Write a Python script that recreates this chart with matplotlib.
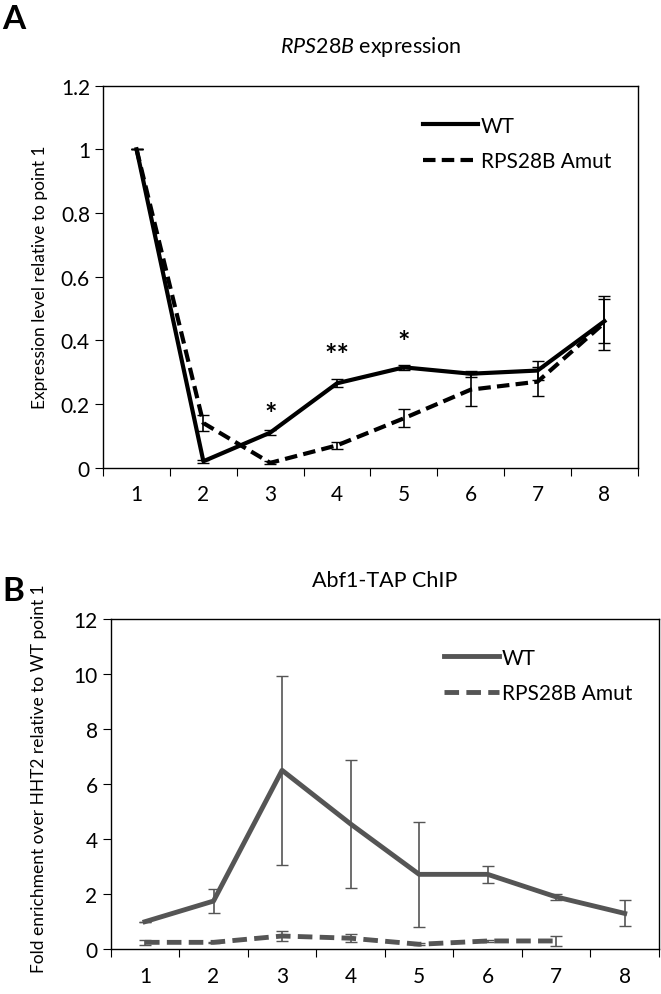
import numpy as np
import matplotlib.pyplot as plt
from matplotlib.lines import Line2D

plt.rcParams['font.family'] = ['Lato', 'DejaVu Sans']
plt.rcParams['mathtext.fontset'] = 'custom'
plt.rcParams['mathtext.it'] = 'Lato:italic'
plt.rcParams['mathtext.rm'] = 'Lato'

points = [1, 2, 3, 4, 5, 6, 7, 8]

# panel A: RPS28B expression
expr_wt = [1.0, 0.02, 0.11, 0.265, 0.315, 0.295, 0.305, 0.46]
expr_wt_err = [0.0, 0.005, 0.008, 0.012, 0.008, 0.01, 0.03, 0.07]
expr_mut = [1.0, 0.14, 0.015, 0.07, 0.155, 0.245, 0.27, 0.455]
expr_mut_err = [0.0, 0.025, 0.005, 0.01, 0.028, 0.05, 0.045, 0.085]
stars = {3: '*', 4: '**', 5: '*'}
star_y = {3: 0.17, 4: 0.355, 5: 0.395}

# panel B: Abf1-TAP ChIP
chip_wt = [1.0, 1.75, 6.5, 4.55, 2.72, 2.72, 1.9, 1.3]
chip_wt_err = [0.0, 0.42, 3.43, 2.33, 1.9, 0.32, 0.12, 0.47]
chip_mut = [0.25, 0.25, 0.48, 0.4, 0.18, 0.3, 0.3]
chip_mut_err = [0.08, 0.02, 0.18, 0.14, 0.03, 0.05, 0.18]

fig = plt.figure(figsize=(6.61, 9.95), dpi=100)
ax1 = fig.add_axes([0.156, 0.529, 0.809, 0.384])
ax2 = fig.add_axes([0.1675, 0.045, 0.8295, 0.332])

dash = (0, (3, 1.5))


def style(ax, n, ymax, ystep):
    ax.set_xlim(0.5, n + 0.5)
    ax.set_ylim(0, ymax)
    ax.set_xticks(np.arange(0.5, n + 1, 1))
    ax.set_xticklabels([])
    ax.set_xticks(points, minor=True)
    ax.set_xticklabels([str(p) for p in points], minor=True)
    ax.tick_params(axis='x', which='minor', length=0, pad=12, labelsize=15)
    ax.tick_params(axis='x', which='major', length=6, direction='out')
    ax.set_yticks(np.arange(0, ymax + ystep / 2, ystep))
    ax.tick_params(axis='y', length=6, labelsize=15)
    for s in ax.spines.values():
        s.set_linewidth(1.0)


def legend(ax, color, lw, anchor):
    handles = [Line2D([], [], color=color, lw=lw),
               Line2D([], [], color=color, lw=lw, ls=dash)]
    ax.legend(handles, ['WT', 'RPS28B Amut'], loc='upper right', bbox_to_anchor=anchor,
              frameon=False, fontsize=15, handlelength=2.6, handletextpad=0.15,
              labelspacing=0.75)


x = np.array(points)

ax1.errorbar(x, expr_wt, yerr=expr_wt_err, color='black', lw=3,
             elinewidth=1.2, capsize=4)
ax1.errorbar(x, expr_mut, yerr=expr_mut_err, color='black', lw=3, ls=dash,
             elinewidth=1.2, capsize=4)
for p, s in stars.items():
    ax1.text(p, star_y[p], s, ha='center', va='center', fontsize=21, fontweight='bold')
style(ax1, 8, 1.2, 0.2)
ax1.set_yticklabels(['0', '0.2', '0.4', '0.6', '0.8', '1', '1.2'])
ax1.set_ylabel('Expression level relative to point 1', fontsize=12.5)
ax1.yaxis.set_label_coords(-0.103, 0.5)
ax1.set_title('$\\it{RPS28B}$ expression', fontsize=15.5, pad=24)
legend(ax1, 'black', 3, (0.985, 0.97))

grey = '#555555'
ax2.errorbar(x, chip_wt, yerr=chip_wt_err, color=grey, lw=3.5,
             elinewidth=1.2, capsize=4)
ax2.errorbar(x[:len(chip_mut)], chip_mut, yerr=chip_mut_err, color=grey, lw=3.5,
             ls=dash, elinewidth=1.2, capsize=4)
style(ax2, 8, 12, 2)
ax2.set_ylabel('Fold enrichment over HHT2 relative to WT point 1', fontsize=12.5)
ax2.yaxis.set_label_coords(-0.116, 0.52)
ax2.set_title('Abf1-TAP ChIP', fontsize=15.5, pad=24)
legend(ax2, grey, 3.5, (0.985, 0.97))

fig.text(0.003, 0.995, 'A', fontsize=24, fontweight='bold', va='top')
fig.text(0.003, 0.42, 'B', fontsize=24, fontweight='bold', va='top')

fig.savefig('out.png', dpi=100)
